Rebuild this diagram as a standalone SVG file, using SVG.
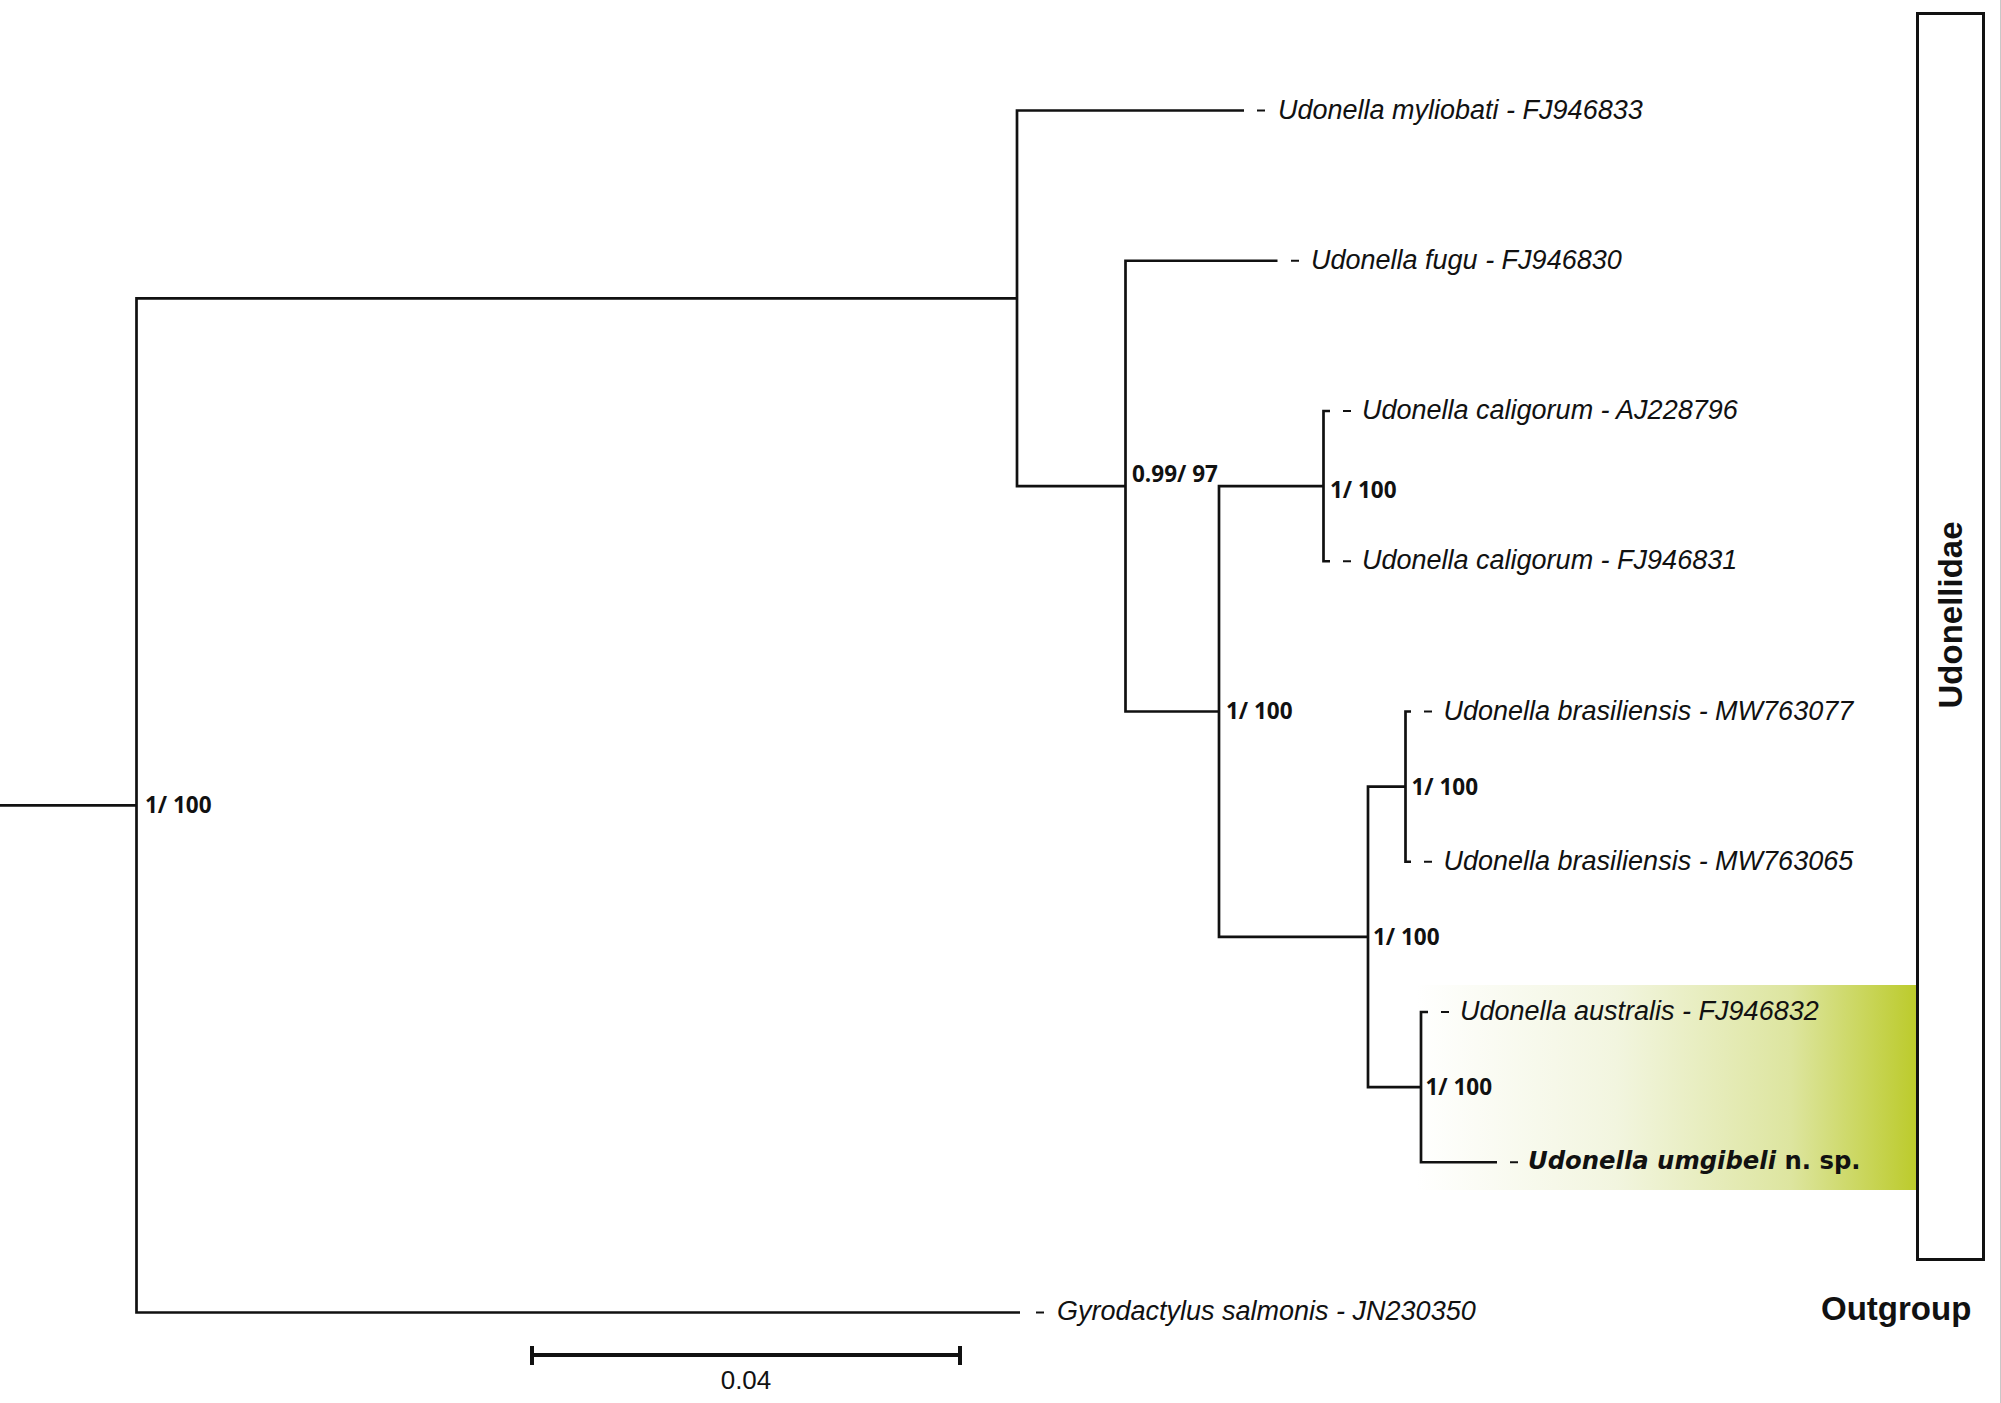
<svg xmlns="http://www.w3.org/2000/svg" width="2001" height="1403" viewBox="0 0 2001 1403">
<defs>
<linearGradient id="hl" x1="0" y1="0" x2="1" y2="0">
<stop offset="0" stop-color="#ffffff"/>
<stop offset="0.4" stop-color="#f2f5df"/>
<stop offset="0.75" stop-color="#dde59f"/>
<stop offset="1" stop-color="#bccb2c"/>
</linearGradient>
<style>
.br{fill:none;stroke:#111;stroke-width:2.7;stroke-linejoin:miter}
.ds{stroke:#111;stroke-width:2}
.tx{font-family:"Liberation Sans",Arial,sans-serif;font-size:27px;font-style:italic;fill:#111}
.nw{font-family:"DejaVu Sans",sans-serif;font-size:24.3px;font-weight:bold;fill:#111}
.sp{font-family:"Open Sans","Noto Sans",sans-serif;font-size:22.5px;font-weight:bold;fill:#111}
.cl{font-family:"Liberation Sans",Arial,sans-serif;font-size:33px;font-weight:bold;fill:#111}
.sc{font-family:"Liberation Sans",Arial,sans-serif;font-size:26px;fill:#111}
</style>
</defs>
<rect width="2001" height="1403" fill="#ffffff"/>
<line x1="2000.5" y1="0" x2="2000.5" y2="1403" stroke="#c8c8c8" stroke-width="1"/>
<rect x="1416" y="985" width="500" height="205" fill="url(#hl)"/>
<g id="clade-udonellidae">
<rect x="1917.5" y="13.5" width="66" height="1246" fill="none" stroke="#111" stroke-width="3"/>
<text class="cl" x="1962" y="615" text-anchor="middle" transform="rotate(-90 1962 615)">Udonellidae</text>
</g>
<g id="clade-outgroup"><text class="cl" x="1821" y="1320">Outgroup</text></g>
<g id="connectors">
<path class="br" d="M0 805.4 H136.5"/>
<path class="br" d="M1017 298.3 H136.5 V1312.5 H1020"/>
<path class="br" d="M1244 110.5 H1017 V486.1 H1125.5"/>
<path class="br" d="M1277.5 260.75 H1125.5 V711.5 H1219"/>
<path class="br" d="M1323.5 486.1 H1219 V936.9 H1368"/>
<path class="br" d="M1330 411 H1323.5 V561.25 H1330"/>
<path class="br" d="M1405.5 786.6 H1368 V1087.1 H1421"/>
<path class="br" d="M1411 711.5 H1405.5 V861.75 H1411"/>
<path class="br" d="M1428 1012 H1421 V1162.25 H1497"/>
</g>
<g id="support-labels">
<text class="sp" x="145" y="813">1/ 100</text>
<text class="sp" x="1132" y="482">0.99/ 97</text>
<text class="sp" x="1226" y="719">1/ 100</text>
<text class="sp" x="1330" y="498">1/ 100</text>
<text class="sp" x="1373" y="945">1/ 100</text>
<text class="sp" x="1411.5" y="795">1/ 100</text>
<text class="sp" x="1425.5" y="1095">1/ 100</text>
</g>
<g id="taxon-myliobati"><line class="ds" x1="1257" y1="110.5" x2="1265" y2="110.5"/><text class="tx" x="1278" y="118.5">Udonella myliobati - FJ946833</text></g>
<g id="taxon-fugu"><line class="ds" x1="1291" y1="260.75" x2="1299" y2="260.75"/><text class="tx" x="1311" y="268.75">Udonella fugu - FJ946830</text></g>
<g id="taxon-caligorum-aj"><line class="ds" x1="1343" y1="411" x2="1351" y2="411"/><text class="tx" x="1362" y="419">Udonella caligorum - AJ228796</text></g>
<g id="taxon-caligorum-fj"><line class="ds" x1="1343" y1="561.25" x2="1351" y2="561.25"/><text class="tx" x="1362" y="569.25">Udonella caligorum - FJ946831</text></g>
<g id="taxon-brasiliensis-077"><line class="ds" x1="1424" y1="711.5" x2="1432" y2="711.5"/><text class="tx" x="1443.5" y="719.5">Udonella brasiliensis - MW763077</text></g>
<g id="taxon-brasiliensis-065"><line class="ds" x1="1424" y1="861.75" x2="1432" y2="861.75"/><text class="tx" x="1443.5" y="869.75">Udonella brasiliensis - MW763065</text></g>
<g id="taxon-australis"><line class="ds" x1="1441" y1="1012" x2="1449" y2="1012"/><text class="tx" x="1460" y="1020">Udonella australis - FJ946832</text></g>
<g id="taxon-umgibeli"><line class="ds" x1="1510" y1="1162.25" x2="1518" y2="1162.25"/><text class="nw" x="1528" y="1168.5"><tspan font-style="italic">Udonella umgibeli</tspan> n. sp.</text></g>
<g id="taxon-gyrodactylus"><line class="ds" x1="1036" y1="1312.5" x2="1044" y2="1312.5"/><text class="tx" x="1057" y="1319.5">Gyrodactylus salmonis - JN230350</text></g>
<g id="scale-bar">
<path d="M532 1355 H960 M532 1346 V1365 M960 1346 V1365" stroke="#111" stroke-width="4" fill="none"/>
<text class="sc" x="746" y="1389" text-anchor="middle">0.04</text>
</g>
</svg>
